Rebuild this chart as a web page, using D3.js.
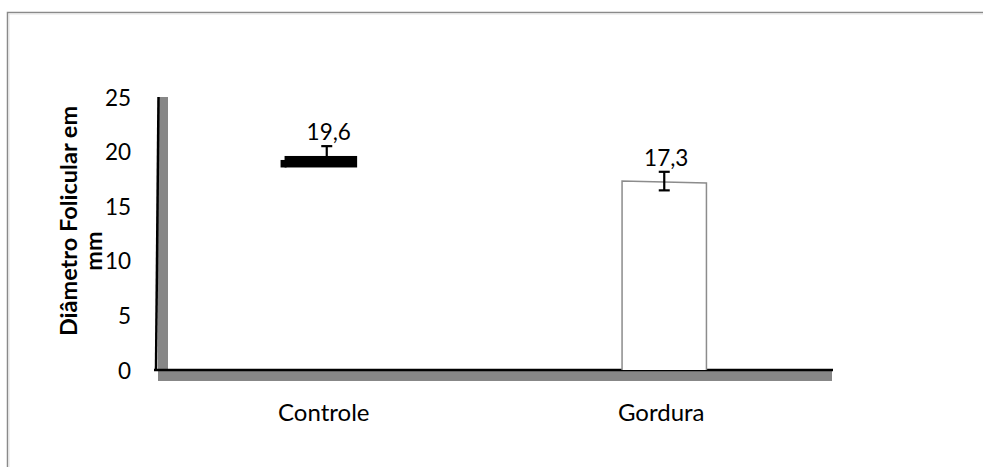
<!DOCTYPE html>
<html><head><meta charset="utf-8">
<script src="https://cdn.jsdelivr.net/npm/d3@7"></script>
<style>body{margin:0;background:#fff}svg{display:block}text{font-family:Lato,"Open Sans",sans-serif}</style>
</head><body><svg id="c" width="983" height="467"></svg>
<script>
const categories = ["Controle", "Gordura"];
const values = [19.6, 17.3];
const errors = [0.9, 0.85];
const valueLabels = ["19,6", "17,3"];
const yTicks = [0, 5, 10, 15, 20, 25];
const yTitle = ["Diâmetro Folicular em", "mm"];

(function () {
const svg = d3.select("#c");
// frame
svg.append("rect").attr("x", 7.5).attr("y", 12.5).attr("width", 1000).attr("height", 500)
  .attr("fill", "none").attr("stroke", "#8a8a8a").attr("stroke-width", 1.5);
svg.append("rect").attr("x", 9).attr("y", 14).attr("width", 1000).attr("height", 500)
  .attr("fill", "none").attr("stroke", "#e4e4e4").attr("stroke-width", 1);

const pl = 158, pr = 833, pt = 97, pb = 370;
const x = d3.scaleBand().domain(categories).range([pl, pr]).padding(0);
const y = d3.scaleLinear().domain([0, 25]).range([pb, pt]);

// gray 3D walls
svg.append("rect").attr("x", pl).attr("y", pt).attr("width", 10).attr("height", pb - pt).attr("fill", "#878787");
svg.append("rect").attr("x", pl).attr("y", pb + 1).attr("width", pr - 1 - pl).attr("height", 10).attr("fill", "#878787");
// axis lines
svg.append("line").attr("x1", pl + 0.5).attr("y1", pt).attr("x2", pl - 2).attr("y2", pb + 1)
  .attr("stroke", "#000").attr("stroke-width", 2.5);
svg.append("line").attr("x1", pl - 4).attr("y1", pb).attr("x2", pr).attr("y2", pb)
  .attr("stroke", "#000").attr("stroke-width", 2.5);

// y ticks
const yAxis = svg.append("g").attr("transform", `translate(${pl - 27},0)`)
  .call(d3.axisLeft(y).tickValues(yTicks).tickSize(0).tickPadding(0).tickFormat(d3.format("d")));
yAxis.select(".domain").remove();
yAxis.selectAll("text").attr("font-size", 22.5).attr("fill", "#000").attr("dy", "0.36em")
  .style("font-family", "Lato");

// y title
yTitle.forEach((t, i) => {
  svg.append("text").attr("transform", `translate(${77 + i * 25},${221 + i * 30}) rotate(-90)`)
    .attr("text-anchor", "middle").attr("font-size", 23.5).attr("font-weight", "bold").text(t);
});

// x labels
const xAxis = svg.append("g").attr("transform", `translate(0,${pb})`)
  .call(d3.axisBottom(x).tickSize(0).tickPadding(0));
xAxis.select(".domain").remove();
xAxis.selectAll("text").attr("font-size", 24).attr("fill", "#000").attr("dy", 0).attr("y", 51)
  .attr("dx", -3).style("font-family", "Lato");

const bw = x.bandwidth() * 0.25;
categories.forEach((c, i) => {
  const cx = x(c) + x.bandwidth() / 2;
  const v = values[i], e = errors[i];
  if (i === 0) {
    svg.append("rect").attr("x", cx - bw / 2 + 0).attr("y", y(v)).attr("width", bw * 0.86).attr("height", 11.5).attr("fill", "#000");
    svg.append("rect").attr("x", cx - bw / 2 - 4).attr("y", y(v) + 4).attr("width", 6).attr("height", 7.5).attr("fill", "#000");
  } else {
    svg.append("path").attr("d", `M${cx - bw / 2},${y(0)} V${y(v)} L${cx + bw / 2},${y(v) + 2} V${y(0)}`)
      .attr("fill", "#fff").attr("stroke", "#8c8c8c").attr("stroke-width", 1.5);
  }
  const eg = svg.append("g").attr("stroke", "#000").attr("stroke-width", 2.2);
  eg.append("line").attr("x1", cx).attr("x2", cx).attr("y1", y(v + e)).attr("y2", y(v - e));
  eg.append("line").attr("x1", cx - 5.5).attr("x2", cx + 5.5).attr("y1", y(v + e)).attr("y2", y(v + e));
  eg.append("line").attr("x1", cx - 5.5).attr("x2", cx + 5.5).attr("y1", y(v - e)).attr("y2", y(v - e));
  svg.append("text").attr("x", cx + 2).attr("y", y(v + e) - 6).attr("text-anchor", "middle")
    .attr("font-size", 22.5).text(valueLabels[i]);
});
})();
</script></body></html>
